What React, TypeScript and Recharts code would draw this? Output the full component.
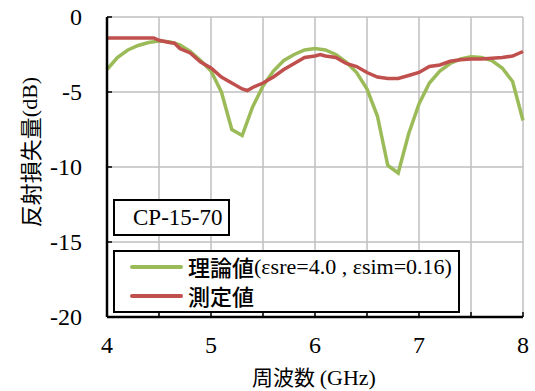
import { LineChart, Line, XAxis, YAxis, CartesianGrid, Label } from 'recharts';

// 理論値 (theory), GHz / dB
const theoryFreq = [4.0, 4.1, 4.2, 4.3, 4.4, 4.5, 4.6, 4.7, 4.8, 4.9, 5.0, 5.1, 5.2, 5.3, 5.4, 5.5, 5.6, 5.7, 5.8, 5.9, 6.0,
  6.1, 6.2, 6.3, 6.4, 6.5, 6.6, 6.7, 6.8, 6.9, 7.0, 7.1, 7.2, 7.3, 7.4, 7.5, 7.6, 7.7, 7.8, 7.9, 8.0];
const theoryDb = [-3.5, -2.7, -2.2, -1.9, -1.7, -1.6, -1.65, -1.85, -2.3, -2.9, -3.6, -5.0, -7.5, -7.9, -6.0, -4.6, -3.6, -2.9, -2.5, -2.2, -2.1,
  -2.2, -2.5, -3.0, -3.7, -4.8, -6.6, -9.9, -10.4, -7.8, -5.8, -4.4, -3.6, -3.1, -2.8, -2.65, -2.7, -2.9, -3.4, -4.3, -6.9];

// 測定値 (measured)
const measFreq = [4.0, 4.1, 4.2, 4.3, 4.45, 4.5, 4.6, 4.65, 4.7, 4.8, 4.9, 5.0, 5.1, 5.2, 5.3, 5.35, 5.4, 5.5, 5.6, 5.7, 5.8, 5.9, 6.0,
  6.05, 6.1, 6.2, 6.3, 6.4, 6.5, 6.6, 6.7, 6.8, 6.9, 7.0, 7.1, 7.2, 7.3, 7.4, 7.5, 7.6, 7.7, 7.8, 7.9, 8.0];
const measDb = [-1.4, -1.4, -1.4, -1.4, -1.4, -1.55, -1.7, -1.75, -2.1, -2.4, -3.0, -3.4, -4.0, -4.4, -4.8, -4.9, -4.7, -4.4, -4.0, -3.5, -3.1, -2.7, -2.6,
  -2.5, -2.6, -2.7, -3.1, -3.3, -3.7, -4.0, -4.1, -4.1, -3.9, -3.7, -3.3, -3.2, -2.95, -2.85, -2.8, -2.8, -2.75, -2.7, -2.6, -2.3];

const xTicks = [4, 4.5, 5, 5.5, 6, 6.5, 7, 7.5, 8];
const yTicks = [0, -5, -10, -15, -20];

const theoryData = theoryFreq.map((f, i) => ({ f, db: theoryDb[i] }));
const measData = measFreq.map((f, i) => ({ f, db: measDb[i] }));

const GREEN = '#9BBB59';
const RED = '#C0504D';
const SERIF = '"Liberation Serif", "Times New Roman", "Noto Sans CJK JP", serif';
const CJK = '"Noto Sans CJK JP", sans-serif';

const legendItems = [
  { color: GREEN, cjk: '理論値', rest: '(εsre=4.0 , εsim=0.16)' },
  { color: RED, cjk: '測定値', rest: '' },
];

const XTick = ({ x, y, payload }: any) => (
  <g>
    <line x1={x} y1={y} x2={x} y2={y - 5} stroke="#000" strokeWidth={1.5} />
    {Number.isInteger(payload.value) && (
      <text x={x} y={y + 36} textAnchor="middle" fontSize={24} fontFamily={SERIF} fill="#000">
        {payload.value}
      </text>
    )}
  </g>
);

const YTick = ({ x, y, payload }: any) => (
  <g>
    <line x1={x} y1={y} x2={x + 5} y2={y} stroke="#000" strokeWidth={1.5} />
    <text x={x - 25} y={y + 8} textAnchor="end" fontSize={24} fontFamily={SERIF} fill="#000">
      {payload.value}
    </text>
  </g>
);

const YTitle = ({ viewBox }: any) => {
  const cx = viewBox.x + 29;
  const cy = 152;
  return (
    <text x={cx} y={cy} transform={`rotate(-90 ${cx} ${cy})`} textAnchor="middle" dominantBaseline="central" fontSize={22} fill="#000">
      <tspan fontFamily={CJK}>反射損失量</tspan>
      <tspan fontFamily={SERIF}>(dB)</tspan>
    </text>
  );
};

const XTitle = ({ viewBox }: any) => {
  const cx = viewBox.x + viewBox.width / 2 - 1;
  return (
    <text x={cx} y={385} textAnchor="middle" fontSize={21} fill="#000">
      <tspan fontFamily={CJK}>周波数 </tspan>
      <tspan fontFamily={SERIF} fontSize={22}>(GHz)</tspan>
    </text>
  );
};

export default function App() {
  return (
    <div style={{ position: 'absolute', left: 0, top: 0, width: 535, height: 391, background: '#fff' }}>
      <LineChart width={535} height={391} margin={{ top: 17, right: 12, left: 0, bottom: 0 }}>
        <CartesianGrid xAxisId="b" yAxisId="l" stroke="#bfbfbf" strokeWidth={1.5} />
        <XAxis
          xAxisId="b"
          dataKey="f"
          type="number"
          domain={[4, 8]}
          ticks={xTicks}
          height={74}
          axisLine={{ stroke: '#000', strokeWidth: 2.5 }}
          tickLine={false}
          tickSize={0}
          tickMargin={0}
          tick={<XTick />}
          interval={0}
        >
          <Label content={<XTitle />} />
        </XAxis>
        <XAxis xAxisId="t" orientation="top" type="number" domain={[4, 8]} height={0} tick={false} tickLine={false} axisLine={{ stroke: '#000', strokeWidth: 2.5 }} />
        <YAxis
          yAxisId="l"
          type="number"
          domain={[-20, 0]}
          ticks={yTicks}
          width={107}
          axisLine={{ stroke: '#000', strokeWidth: 2.5 }}
          tickLine={false}
          tickSize={0}
          tickMargin={0}
          tick={<YTick />}
          interval={0}
        >
          <Label content={<YTitle />} />
        </YAxis>
        <YAxis yAxisId="r" orientation="right" type="number" domain={[-20, 0]} width={0} tick={false} tickLine={false} axisLine={{ stroke: '#000', strokeWidth: 2.5 }} />
        <Line xAxisId="b" yAxisId="l" data={theoryData} dataKey="db" name="理論値" stroke={GREEN} strokeWidth={3.5} dot={false} type="linear" isAnimationActive={false} />
        <Line xAxisId="b" yAxisId="l" data={measData} dataKey="db" name="測定値" stroke={RED} strokeWidth={3.5} dot={false} type="linear" isAnimationActive={false} />
      </LineChart>
      <div
        style={{
          position: 'absolute', left: 113, top: 199, width: 117, height: 37, boxSizing: 'border-box',
          border: '2px solid #000', background: '#fff', fontFamily: SERIF, fontSize: 23,
          display: 'flex', alignItems: 'center', paddingLeft: 18, color: '#000', whiteSpace: 'nowrap',
        }}
      >
        CP-15-70
      </div>
      <div
        style={{
          position: 'absolute', left: 113, top: 250, width: 347, height: 63, boxSizing: 'border-box',
          border: '2px solid #000', background: '#fff', padding: '0 0 0 15px',
        }}
      >
        {legendItems.map((r) => (
          <div key={r.cjk} style={{ display: 'flex', alignItems: 'center', height: 29, whiteSpace: 'nowrap' }}>
            <div style={{ width: 53, height: 4, background: r.color, borderRadius: 2, marginRight: 5 }} />
            <span style={{ fontFamily: CJK, fontSize: 22, color: '#000', fontWeight: 500, lineHeight: '29px' }}>{r.cjk}</span>
            <span style={{ fontFamily: SERIF, fontSize: 22, color: '#000', lineHeight: '29px' }}>{r.rest}</span>
          </div>
        ))}
      </div>
    </div>
  );
}
